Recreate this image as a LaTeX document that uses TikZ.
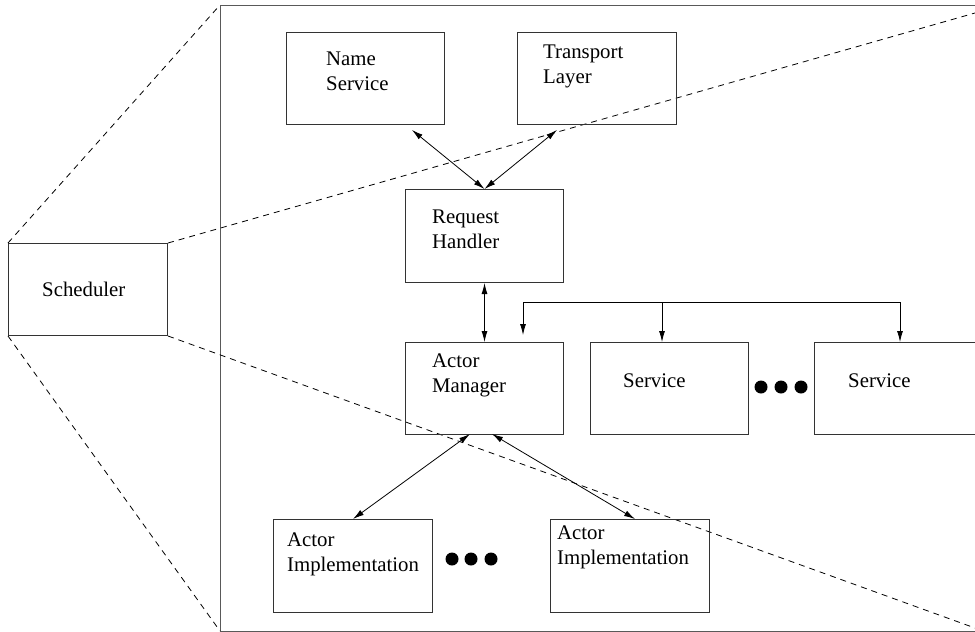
\documentclass[tikz,border=0pt]{standalone}
\usepackage{fontspec}
\setmainfont{Liberation Serif}
\usetikzlibrary{arrows.meta}
\begin{document}
\begin{tikzpicture}[x=1pt,y=-1pt,
  box/.style={draw=black!80, line width=1pt, inner sep=0pt, anchor=north west},
  lbl/.style={anchor=base west, inner sep=0pt, font=\fontsize{20.8}{25}\selectfont},
  conn/.style={line width=0.8pt, {Latex[length=11pt,width=6pt]}-{Latex[length=11pt,width=6pt]}},
  feed/.style={line width=0.8pt, -{Latex[length=11pt,width=6pt]}},
  zoomline/.style={dashed, dash pattern=on 6pt off 5pt, line width=0.8pt},
  dot/.style={circle, fill=black, inner sep=0pt, minimum size=13pt}]
\useasboundingbox (0,0) rectangle (975,632);

% enlarged view frame (open to the right)
\coordinate (ftr) at (985,5);
\coordinate (ftl) at (220,5);
\coordinate (fbl) at (220,631);
\coordinate (fbr) at (985,631);
\draw[draw=black!65, line width=1pt] (ftr) -- (ftl) -- (fbl) -- (fbr);

% scheduler
\node[box, minimum width=159pt, minimum height=92pt] (sch) at (8,243) {};
\node[lbl] (schT) at (42,296) {Scheduler};

% zoom projection lines
\coordinate (zr1) at (975,13);
\coordinate (zr2) at (975,628);
\draw[zoomline] (sch.north west) -- (ftl);
\draw[zoomline] (sch.south west) -- (fbl);
\draw[zoomline] (sch.north east) -- (zr1);
\draw[zoomline] (sch.south east) -- (zr2);

% components
\node[box, minimum width=158pt, minimum height=92pt] (ns) at (286,32) {};
\node[lbl] (ns1) at (326,65) {Name};
\node[lbl] (ns2) at (326,90) {Service};

\node[box, minimum width=159pt, minimum height=92pt] (tl) at (517,32) {};
\node[lbl] (tl1) at (543,58) {Transport};
\node[lbl] (tl2) at (543,83) {Layer};

\node[box, minimum width=158pt, minimum height=93pt] (rh) at (405,189) {};
\node[lbl] (rh1) at (432,223) {Request};
\node[lbl] (rh2) at (432,248) {Handler};

\node[box, minimum width=158pt, minimum height=92pt] (am) at (405,342) {};
\node[lbl] (am1) at (432,367) {Actor};
\node[lbl] (am2) at (432,392) {Manager};

\node[box, minimum width=158pt, minimum height=92pt] (sv1) at (590,342) {};
\node[lbl] (sv1T) at (623,387) {Service};
\node[box, minimum width=165pt, minimum height=92pt] (sv2) at (814,342) {};
\node[lbl] (sv2T) at (848,387) {Service};

\node[box, minimum width=159pt, minimum height=93pt] (ai1) at (273,519) {};
\node[lbl] (ai1a) at (287,546) {Actor};
\node[lbl] (ai1b) at (287,571) {Implementation};

\node[box, minimum width=159pt, minimum height=93pt] (ai2) at (550,519) {};
\node[lbl] (ai2a) at (557,539) {Actor};
\node[lbl] (ai2b) at (557,564) {Implementation};

% ellipsis dots
\node[dot] (sd1) at (761,387) {};
\node[dot] (sd2) at (781,387) {};
\node[dot] (sd3) at (801,387) {};
\node[dot] (ad1) at (452,559) {};
\node[dot] (ad2) at (471,559) {};
\node[dot] (ad3) at (491,559) {};

% connector end points
\coordinate (nsE) at (412,130);
\coordinate (tlE) at (557,130);
\coordinate (amL) at (470,434);
\coordinate (amR) at (492,434);
\coordinate (ai2E) at (635,519);
\coordinate (busL) at (523,302);
\coordinate (busM) at (662,302);
\coordinate (busR) at (900,302);
\coordinate (amB) at (523,335);
\coordinate (sv1E) at (662,342);
\coordinate (sv2E) at (900,342);

\draw[conn] (nsE) -- (rh.north);
\draw[conn] (tlE) -- (rh.north);
\draw[conn] (rh.south) -- (am.north);
\draw[conn] (amL) -- (ai1.north);
\draw[conn] (amR) -- (ai2E);

% service bus
\draw[line width=0.8pt] (busL) -- (busR);
\draw[feed] (busL) -- (amB);
\draw[feed] (busM) -- (sv1E);
\draw[feed] (busR) -- (sv2E);
\end{tikzpicture}
\end{document}
